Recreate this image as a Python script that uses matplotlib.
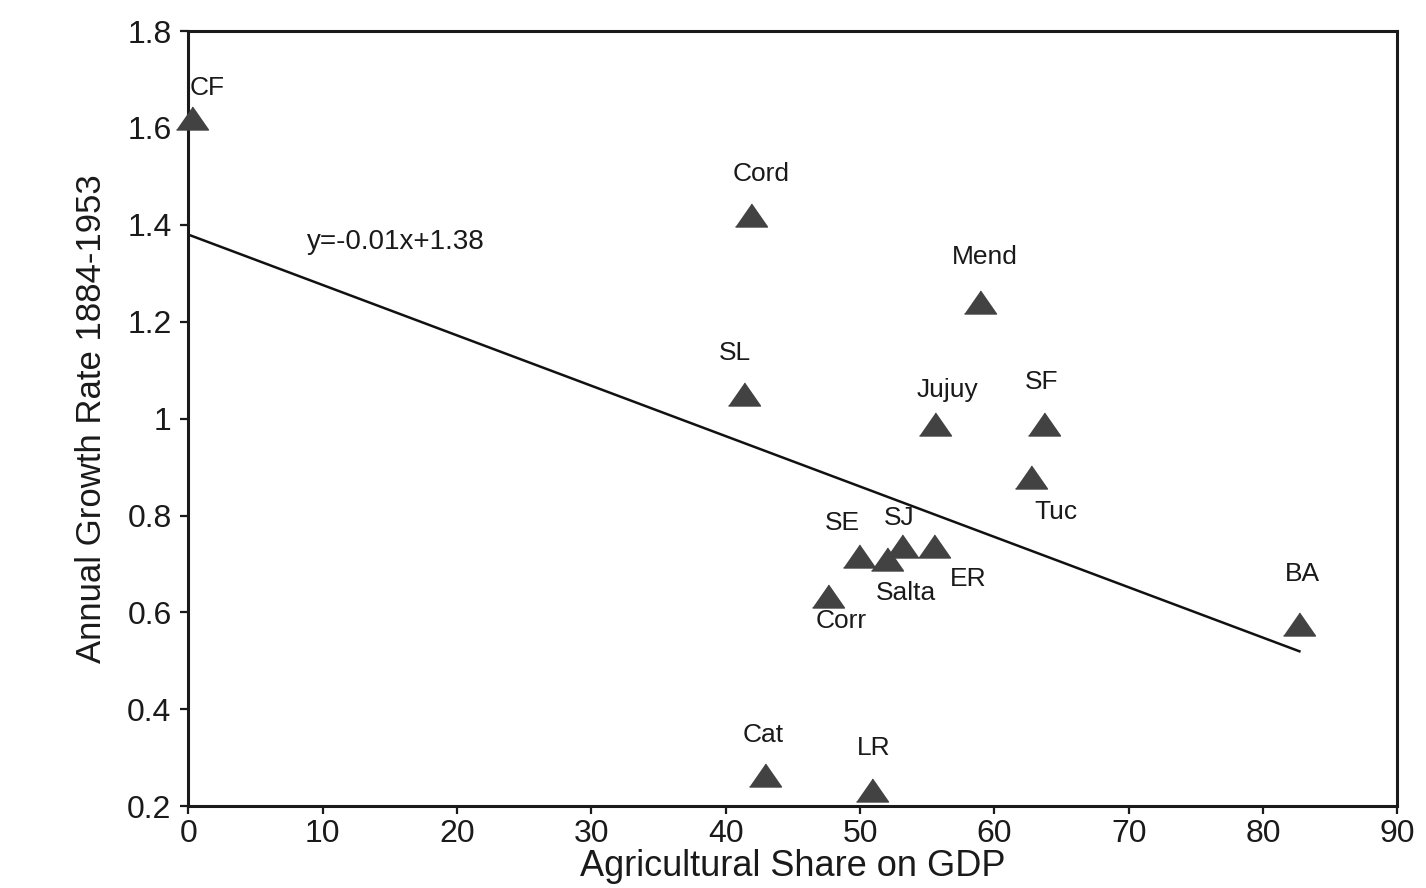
import numpy as np
import matplotlib.pyplot as plt

plt.rcParams['font.family'] = ['Liberation Sans', 'DejaVu Sans']

# provincias: participacao agricola no PIB x taxa de crescimento anual
provincias = ['CF', 'Cord', 'Mend', 'SL', 'Jujuy', 'SF', 'Tuc', 'SE', 'Salta',
              'SJ', 'ER', 'Corr', 'BA', 'Cat', 'LR']
share_agro = [0.3, 41.9, 58.9, 41.4, 55.6, 63.7, 62.7, 49.9, 52.0,
              53.1, 55.5, 47.6, 82.7, 42.9, 50.9]
crescimento = [1.62, 1.42, 1.24, 1.05, 0.99, 0.99, 0.88, 0.716, 0.711,
               0.737, 0.738, 0.634, 0.576, 0.265, 0.234]

# deslocamento dos rotulos (pontos)
offsets = [(11, 22), (7, 30), (4, 33), (-7, 30), (9, 24), (-2, 30), (18, -25),
           (-12, 24), (14, -25), (-2, 20), (25, -24), (10, -18), (2, 36),
           (-1, 29), (1, 30)]

# reta de regressao
coef_ang = -0.0104
coef_lin = 1.38
x_reta = np.array([0, 82.7])

fig = plt.figure(figsize=(14.26, 8.88), dpi=100)
ax = fig.add_axes([0.132, 0.092, 0.848, 0.873])

ax.plot(x_reta, coef_ang * x_reta + coef_lin, color='#111111', linewidth=1.8,
        zorder=2)

tri = [(-1, -0.72), (1, -0.72), (0, 0.72)]
ax.plot(share_agro, crescimento, linestyle='none', marker=tri, markersize=23,
        color='#424242', clip_on=False, zorder=3)

for nome, xv, yv, off in zip(provincias, share_agro, crescimento, offsets):
    ax.annotate(nome, (xv, yv), xytext=off, textcoords='offset points',
                ha='center', va='center', fontsize=19, color='#1a1a1a')

ax.text(8.8, 1.365, 'y=-0.01x+1.38', fontsize=20, color='#1a1a1a',
        ha='left', va='center')

ax.set_xlim(0, 90)
ax.set_ylim(0.2, 1.8)
ax.set_xticks(np.arange(0, 91, 10))
ax.set_yticks([0.2, 0.4, 0.6, 0.8, 1, 1.2, 1.4, 1.6, 1.8])
ax.set_yticklabels(['0.2', '0.4', '0.6', '0.8', '1', '1.2', '1.4', '1.6', '1.8'])
ax.tick_params(axis='both', direction='out', length=6, width=1.6,
               labelsize=23, colors='#1a1a1a')
ax.tick_params(axis='x', pad=3)
ax.tick_params(axis='y', pad=6)
for s in ax.spines.values():
    s.set_linewidth(2.2)
    s.set_color('#1a1a1a')

ax.set_xlabel('Agricultural Share on GDP', fontsize=26, color='#1a1a1a',
              labelpad=0)
ax.set_ylabel('Annual Growth Rate 1884-1953', fontsize=25, color='#1a1a1a',
              labelpad=14)

plt.savefig('out.png', dpi=100)
